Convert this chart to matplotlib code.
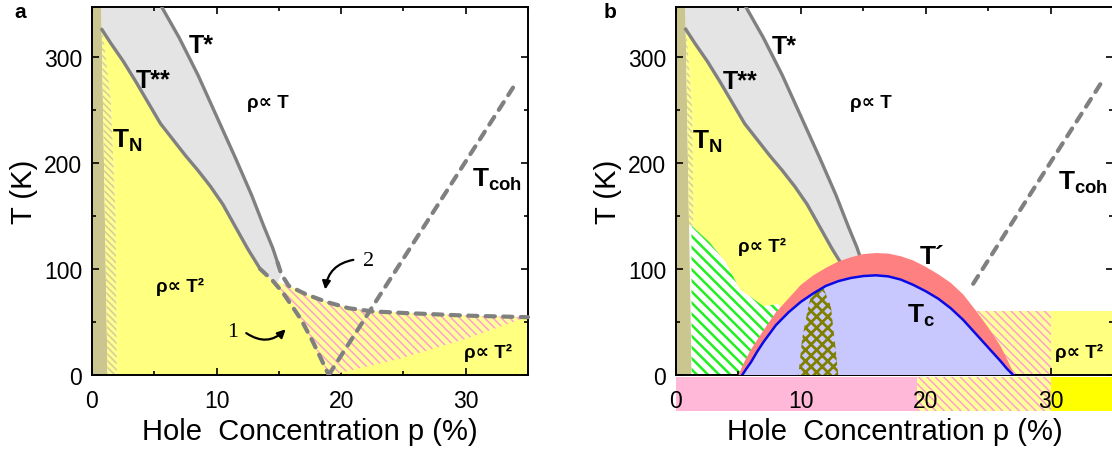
import numpy as np
import matplotlib
matplotlib.use('Agg')
import matplotlib.pyplot as plt
from matplotlib.patches import Polygon, Rectangle
from matplotlib.ticker import MultipleLocator

plt.rcParams['font.family'] = ['Liberation Sans', 'DejaVu Sans']
plt.rcParams['mathtext.fontset'] = 'custom'
plt.rcParams['mathtext.rm'] = 'Liberation Sans'
plt.rcParams['mathtext.bf'] = 'Liberation Sans:bold'
plt.rcParams['mathtext.it'] = 'Liberation Sans:italic'
plt.rcParams['hatch.linewidth'] = 1.0

# ============ data (p in %, T in K) ============ #
khaki_p = [0.0, 1.25, 0.75, 0.0]
khaki_T = [0, 0, 347, 347]

# T** and T* crossover lines
t2_p = [0.78, 1.5, 2.5, 3.5, 4.5, 5.5, 6.5, 7.5, 8.5, 9.5, 10.5, 11.5, 12.5, 13.5]
t2_T = [326, 313, 296, 277, 257, 237, 222, 207, 193, 178, 161, 140, 119, 100]
t1_p = [5.6, 7.0, 8.5, 10.0, 11.5, 12.8, 13.8, 14.5, 14.9]
t1_T = [347, 318, 283, 244, 205, 170, 140, 120, 106]

# panel a: dashed continuations (curve 1 and line 2)
t2_dash_p = [13.5, 14.5, 15.3, 16.0, 16.8, 17.7, 18.4, 19.0]
t2_dash_T = [100, 89, 78, 66, 52, 32, 15, 0]
t1_dash_p = [14.9, 15.2, 15.8, 17.2, 18.8, 20.6, 22.5, 25.0, 30.0, 35.0]
t1_dash_T = [106, 95, 84, 76, 69, 63, 60, 58.5, 56, 54.5]
hatch_low_p = [35.0, 30.0, 24.6, 19.2]
hatch_low_T = [55, 34, 15, 0]

# coherence line
tcoh_a_p = [19.0, 33.8]
tcoh_a_T = [0, 271]
tcoh_b_p = [23.8, 34.3]
tcoh_b_T = [86, 280]

# hatched strip next to the AF insulator band
strip_a_p = [0.8, 1.5, 1.9, 2.0]
strip_a_T = [330, 260, 150, 0]
strip_b_p = [0.8, 1.3, 1.4]
strip_b_T = [330, 250, 141]

# panel b: green hatched region
green_p = [1.25, 1.24, 2.7, 4.0, 5.1, 7.0, 8.2, 8.5, 7.0, 6.0, 5.4]
green_T = [0, 141, 125, 106, 81, 65, 67, 62, 38, 18, 0]

# panel b: superconducting dome Tc and T'
tc_p = [5.3, 5.7, 6, 6.5, 7, 7.5, 8, 9, 10, 11, 12, 13, 14, 15, 16, 17, 18, 19,
        20, 21, 22, 23, 24, 25, 26, 26.5, 27]
tc_T = [0, 7, 12, 22, 31, 39, 47, 59, 69, 77, 84, 88.5, 91.5, 93.3, 94, 93, 90, 85,
        79, 72, 63, 52, 39, 26, 13, 6, 0]
tp_p = [5.0, 5.5, 6, 7, 8, 9, 10, 11, 12, 13, 14, 15, 16, 17, 18, 19, 20, 21, 22,
        23, 24, 25, 26, 26.6, 27.1]
tp_T = [0, 13, 24, 42, 59, 72, 85, 94, 101, 107, 111, 114, 115, 114.5, 112, 108,
        102, 95, 87, 76, 61, 45, 27, 13, 0]

# crosshatched pocket inside the dome
cross_p = [9.8, 10.1, 10.6, 11.0, 11.8, 12.4, 12.7, 13.0]
cross_T = [0, 34, 65, 82, 82, 65, 34, 0]

# panel b: boxes at low T on the overdoped side, and the colour band under the axis
box_hatch_p = [22.0, 30.0]
box_yellow_p = [30.0, 35.0]
box_T = 60
band_edges = [0.0, 19.3, 30.0, 35.6]

YELLOW = '#ffff80'
KHAKI = '#cbc690'
GRAYF = '#e4e4e4'
LINE = '#808080'
PINK = '#ff9fcc'
BS = '\\'


def poly(ax, xs, ys, hlw=None, **kw):
    pg = Polygon(np.column_stack([xs, ys]), closed=True, **kw)
    if hlw is not None and hasattr(pg, 'set_hatch_linewidth'):
        pg.set_hatch_linewidth(hlw)
    ax.add_patch(pg)
    return pg


def setup(ax):
    ax.set_xlim(0, 35)
    ax.set_ylim(0, 347)
    ax.xaxis.set_major_locator(MultipleLocator(10))
    ax.xaxis.set_minor_locator(MultipleLocator(5))
    ax.yaxis.set_major_locator(MultipleLocator(100))
    ax.yaxis.set_minor_locator(MultipleLocator(50))
    ax.tick_params(which='both', direction='in', top=True, right=True, width=1.2,
                   labelsize=16.5)
    ax.tick_params(axis='x', pad=10)
    ax.tick_params(axis='y', pad=7)
    ax.tick_params(which='major', length=5)
    ax.tick_params(which='minor', length=3)
    for s in ax.spines.values():
        s.set_linewidth(1.4)
    ax.set_xlabel('Hole  Concentration p (%)', fontsize=21, labelpad=4)
    ax.set_ylabel('T (K)', fontsize=21, labelpad=4)


def common(ax, strip_p, strip_T):
    poly(ax, khaki_p, khaki_T, facecolor=KHAKI, lw=0, zorder=1)
    # yellow/khaki striped strip
    sx = [khaki_p[2] + (khaki_p[1] - khaki_p[2]) * (347 - t) / 347 for t in strip_T]
    poly(ax, strip_p + sx[::-1], strip_T + strip_T[::-1], hlw=1.2,
         facecolor='#ffff90', edgecolor='#d6cf98', hatch=BS * 5, lw=0, zorder=1.2)


def labels(ax, tcoh_xy, rho_xy, rho2_xy, tstar_xy, tss_xy, tn_xy):
    kw = dict(fontweight='bold', ha='center', va='center', zorder=6)
    ax.text(*tstar_xy, 'T*', fontsize=18, **kw)
    ax.text(*tss_xy, 'T**', fontsize=18, **kw)
    ax.text(*tn_xy, r'$\mathbf{T}_{\mathbf{N}}$', fontsize=19, **kw)
    ax.text(*rho_xy, 'ρ∝ T', fontsize=13.5, **kw)
    ax.text(*rho2_xy, 'ρ∝ T²', fontsize=13.5, **kw)
    ax.text(tcoh_xy[0], tcoh_xy[1], r'$\mathbf{T}_{\mathbf{coh}}$', fontsize=19,
            fontweight='bold', ha='left', va='center', zorder=6)


fig = plt.figure(figsize=(11.12, 4.52), dpi=100)
axa = fig.add_axes([92 / 1112, 76 / 452, 436 / 1112, 368 / 452])
axb = fig.add_axes([676 / 1112, 76 / 452, 437 / 1112, 368 / 452])

# ---------------- panel a ---------------- #
setup(axa)
sa = strip_a_p[::-1]
ya = strip_a_T[::-1]
yx = sa + t2_p[1:] + t2_dash_p[1:2] + t1_dash_p[2:] + [35.0]
yy = ya + t2_T[1:] + t2_dash_T[1:2] + t1_dash_T[2:] + [0]
poly(axa, yx, yy, facecolor=YELLOW, lw=0, zorder=0.8)
common(axa, strip_a_p, strip_a_T)
# gray band, closed at the tip where both dashed lines meet
gx = [0.75] + t1_p + t1_dash_p[1:2] + [14.9] + t2_dash_p[1:2] + t2_p[::-1]
gy = [347] + t1_T + t1_dash_T[1:2] + [87] + t2_dash_T[1:2] + t2_T[::-1]
poly(axa, gx, gy, facecolor=GRAYF, lw=0, zorder=1.5)
hx = t2_dash_p[1:2] + t1_dash_p[2:] + hatch_low_p + t2_dash_p[::-1][:-2]
hy = t2_dash_T[1:2] + t1_dash_T[2:] + hatch_low_T + t2_dash_T[::-1][:-2]
poly(axa, hx, hy, hlw=1.1, facecolor='#ffff99', edgecolor=PINK, hatch=BS * 4, lw=0,
     zorder=1.6)

axa.plot(t2_p, t2_T, color=LINE, lw=2.4, zorder=3, solid_capstyle='round')
axa.plot(t1_p, t1_T, color=LINE, lw=2.4, zorder=3, solid_capstyle='round')
dash = dict(color=LINE, lw=3.0, ls=(0, (2.2, 2.0)), dash_capstyle='round', zorder=3)
axa.plot(t2_dash_p, t2_dash_T, **dash)
axa.plot(t1_dash_p, t1_dash_T, clip_on=False, **dash)
axa.plot(tcoh_a_p, tcoh_a_T, **dash)

labels(axa, (30.5, 185), (14.1, 257), (7.1, 84), (8.75, 311), (4.9, 278), (2.8, 222))
axa.text(31.8, 22, 'ρ∝ T²', fontsize=13.5, fontweight='bold', ha='center', va='center', zorder=6)
axa.text(11.3, 41, '1', fontsize=16, family='Liberation Serif', ha='center', va='center')
axa.text(22.2, 108, '2', fontsize=16, family='Liberation Serif', ha='center', va='center')
arr = dict(arrowstyle='-|>', color='black', lw=1.6, mutation_scale=12)
axa.annotate('', xy=(15.7, 45), xytext=(12.2, 41),
             arrowprops=dict(connectionstyle='arc3,rad=0.45', **arr))
axa.annotate('', xy=(18.7, 78), xytext=(21.2, 109),
             arrowprops=dict(connectionstyle='arc3,rad=0.4', **arr))

# ---------------- panel b ---------------- #
setup(axb)
sb = strip_b_p[::-1]
yb = strip_b_T[::-1]
poly(axb, sb + t2_p[1:] + [13.5, 1.3], yb + t2_T[1:] + [0, 0],
     facecolor=YELLOW, lw=0, zorder=0.8)
common(axb, strip_b_p, strip_b_T)
gx = [0.75] + t1_p + t2_p[::-1]
gy = [347] + t1_T + t2_T[::-1]
poly(axb, gx, gy, facecolor=GRAYF, lw=0, zorder=1.5)
poly(axb, green_p, green_T, hlw=1.8, facecolor='white', edgecolor='#22ee22',
     hatch=BS * 3, lw=0, zorder=1.3)
axb.plot(t2_p, t2_T, color=LINE, lw=2.4, zorder=3)
axb.plot(t1_p, t1_T, color=LINE, lw=2.4, zorder=3)

hb = Rectangle((box_hatch_p[0], 0), box_hatch_p[1] - box_hatch_p[0], box_T,
               facecolor='#ffff99', edgecolor=PINK, hatch=BS * 4, lw=0, zorder=1)
if hasattr(hb, 'set_hatch_linewidth'):
    hb.set_hatch_linewidth(1.1)
axb.add_patch(hb)
axb.add_patch(Rectangle((box_yellow_p[0], 0), box_yellow_p[1] - box_yellow_p[0], box_T,
                        facecolor=YELLOW, lw=0, zorder=1))

poly(axb, tp_p, tp_T, facecolor='#ff8080', lw=0, zorder=4)
tcpg = poly(axb, tc_p, tc_T, facecolor='#c8c8ff', lw=0, zorder=4.1)
cpg = poly(axb, cross_p, cross_T, hlw=2.0, facecolor='none', edgecolor='#808000',
           hatch='xxx', lw=0, zorder=4.2)
cpg.set_clip_path(tcpg)
axb.plot(tc_p, tc_T, color='#0a0ae6', lw=1.8, zorder=4.5)
axb.plot(tcoh_b_p, tcoh_b_T, **dash)

# colour band below the axis
cols = [dict(facecolor='#ffb8d8'), dict(facecolor='#ffff99', edgecolor=PINK, hatch=BS * 4),
        dict(facecolor='#ffff00')]
for i, c in enumerate(cols):
    r = Rectangle((band_edges[i], -34), band_edges[i + 1] - band_edges[i], 32.5,
                  lw=0, clip_on=False, zorder=0.5, **c)
    if hasattr(r, 'set_hatch_linewidth'):
        r.set_hatch_linewidth(1.1)
    axb.add_patch(r)

labels(axb, (30.6, 182), (15.6, 257), (6.9, 122), (8.7, 310), (5.1, 277), (2.5, 221))
axb.text(32.3, 22, 'ρ∝ T²', fontsize=13.5, fontweight='bold', ha='center', va='center', zorder=6)
axb.text(20.5, 112, 'T´', fontsize=19, fontweight='bold', ha='center', va='center', zorder=6)
axb.text(19.6, 57, r'$\mathbf{T}_{\mathbf{c}}$', fontsize=19, ha='center', va='center', zorder=6)

fig.text(20 / 1112, 1 - 12 / 452, 'a', fontsize=15, fontweight='bold', ha='center', va='center')
fig.text(610 / 1112, 1 - 13 / 452, 'b', fontsize=15, fontweight='bold', ha='center', va='center')

fig.savefig('out.png', dpi=100)
